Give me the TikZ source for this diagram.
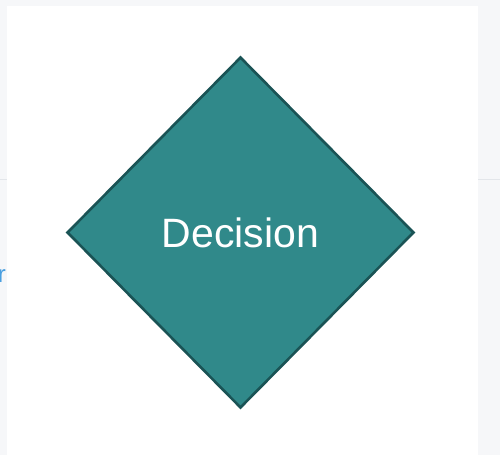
\documentclass[tikz,border=0pt]{standalone}
\usepackage{fontspec}
\setmainfont{Liberation Sans}
\usetikzlibrary{shapes.geometric}
\definecolor{teal}{HTML}{30898A}
\definecolor{tealdark}{HTML}{1A5355}
\definecolor{pagebg}{HTML}{F6F7F9}
\definecolor{rule}{HTML}{E3E6EA}
\definecolor{linkblue}{HTML}{4A9FE0}
\tikzset{
  decisionbox/.style={shape=diamond, draw=tealdark, line width=2.6pt, fill=teal,
    minimum width=347pt, minimum height=351pt, inner sep=0pt,
    text=white, font=\fontsize{41}{49}\selectfont},
  panelrule/.style={draw=rule, line width=1pt}
}
\begin{document}
\begin{tikzpicture}[x=1pt,y=1pt]
\useasboundingbox (0,0) rectangle (500,455);
\fill[pagebg] (0,0) rectangle (500,455);
\fill[white] (7,0) rectangle (478,449);
\draw[panelrule] (0,275) -- (7,275);
\draw[panelrule] (478,275) -- (500,275);
\node[text=linkblue, font=\fontsize{24}{28}\selectfont, anchor=base east, inner sep=0pt] (frag) at (6,172) {r};
\node[decisionbox] (dec) at (240.5,222.5) {Decision};
\end{tikzpicture}
\end{document}
